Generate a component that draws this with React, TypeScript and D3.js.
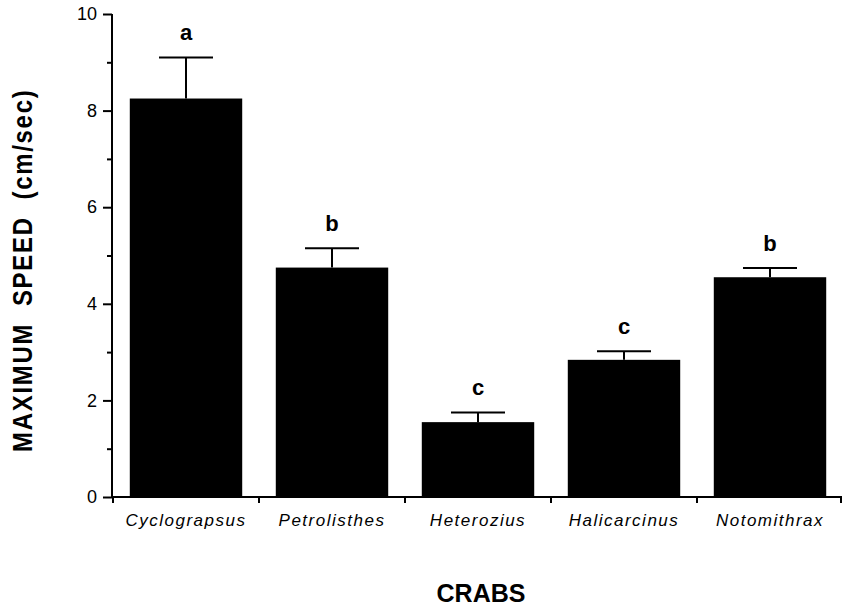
import React, { useEffect, useRef } from 'react';
import * as d3 from 'd3';

const crabs = ['Cyclograpsus', 'Petrolisthes', 'Heterozius', 'Halicarcinus', 'Notomithrax'];
const speeds = [8.25, 4.75, 1.55, 2.84, 4.55];
const errors = [0.85, 0.4, 0.2, 0.18, 0.19];
const groups = ['a', 'b', 'c', 'c', 'b'];
const majorTicks = [0, 2, 4, 6, 8, 10];
const minorTicks = [1, 3, 5, 7, 9];

const W = 843;
const H = 607;
const margin = { top: 14, right: 0, bottom: 110, left: 113 };
const font = '"Liberation Sans", Arial, Helvetica, sans-serif';

const App = () => {
    const yAxisRef = useRef(null);
    const yMinorRef = useRef(null);
    const xAxisRef = useRef(null);

    const x = d3.scaleBand().domain(crabs).range([margin.left, W - margin.right]).padding(0);
    const y = d3.scaleLinear().domain([0, 10]).range([H - margin.bottom, margin.top]);
    const inset = x.step() * 0.115;
    const capW = 54;

    useEffect(() => {
        const ya = d3.select(yAxisRef.current);
        ya.selectAll('*').remove();
        ya.call(d3.axisLeft(y).tickValues(majorTicks).tickSize(9).tickPadding(6).tickFormat(d3.format('d')));
        ya.select('.domain').attr('stroke-width', 2).attr('d', `M0,${y(0)}V${y(10)}`);
        ya.selectAll('.tick line').attr('stroke-width', 2);
        ya.selectAll('.tick text').attr('font-size', 18).attr('font-family', font).attr('fill', '#000');

        const ym = d3.select(yMinorRef.current);
        ym.selectAll('*').remove();
        ym.call(d3.axisLeft(y).tickValues(minorTicks).tickSize(5).tickFormat(() => ''));
        ym.select('.domain').remove();
        ym.selectAll('.tick line').attr('stroke-width', 2);

        // ticks sit on the band boundaries, between the bars
        const xa = d3.select(xAxisRef.current);
        xa.selectAll('*').remove();
        const bounds = crabs.map(c => x(c)).concat([x(crabs[crabs.length - 1]) + x.step()]);
        xa.append('path')
            .attr('d', `M${margin.left},0H${W - 1}`)
            .attr('stroke', '#000')
            .attr('stroke-width', 2);
        xa.selectAll('.xt')
            .data(bounds)
            .enter().append('line')
            .attr('class', 'xt')
            .attr('x1', d => Math.min(d, W - 2)).attr('x2', d => Math.min(d, W - 2))
            .attr('y1', 0).attr('y2', 6)
            .attr('stroke', '#000')
            .attr('stroke-width', 2);
    }, []);

    return (
        <svg width={W} height={H} style={{ position: 'absolute', left: 0, top: 0, background: '#fff' }}>
            {crabs.map((c, i) => {
                const cx = x(c) + x.step() / 2;
                return (
                    <g key={c}>
                        <rect x={x(c) + inset} width={x.step() - 2 * inset} y={y(speeds[i])}
                              height={y(0) - y(speeds[i])} fill="#000" />
                        <line x1={cx} x2={cx} y1={y(speeds[i])} y2={y(speeds[i] + errors[i])}
                              stroke="#000" strokeWidth={2} />
                        <line x1={cx - capW / 2} x2={cx + capW / 2} y1={y(speeds[i] + errors[i])}
                              y2={y(speeds[i] + errors[i])} stroke="#000" strokeWidth={2} />
                        <text x={cx} y={y(speeds[i] + errors[i]) - 17} textAnchor="middle"
                              fontFamily={font} fontWeight="bold" fontSize={22}>{groups[i]}</text>
                        <text x={cx} y={526} textAnchor="middle" fontFamily={font} fontStyle="italic"
                              fontSize={17} letterSpacing={1.5}>{c}</text>
                    </g>
                );
            })}
            <g ref={yMinorRef} transform={`translate(${margin.left - 1},0)`} />
            <g ref={yAxisRef} transform={`translate(${margin.left - 1},0)`} />
            <g ref={xAxisRef} transform={`translate(0,${y(0)})`} />
            <text transform="translate(32,452) rotate(-90) scale(1,1.12)" textAnchor="start"
                  fontFamily={font} fontWeight="bold" fontSize={24} letterSpacing={1.7}
                  style={{ whiteSpace: 'pre' }}>
                {'MAXIMUM  SPEED  (cm/sec)'}
            </text>
            <text x={481} y={602} textAnchor="middle" fontFamily={font} fontWeight="bold"
                  fontSize={25}>CRABS</text>
        </svg>
    );
};

export default App;
